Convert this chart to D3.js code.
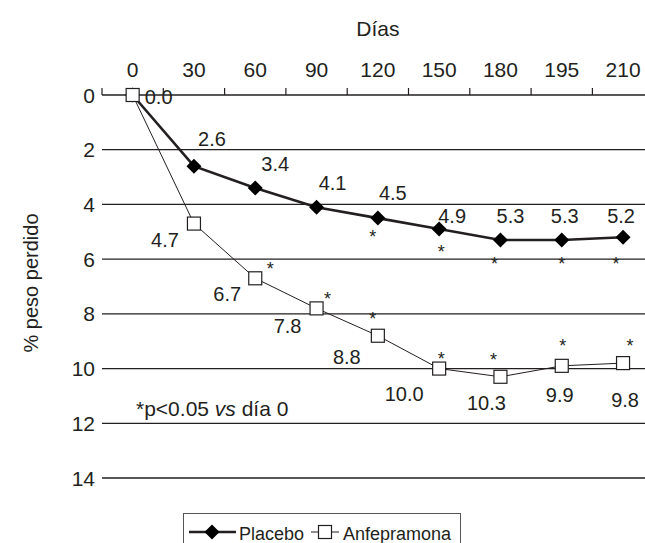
<!DOCTYPE html>
<html>
<head>
<meta charset="utf-8">
<script src="https://cdn.jsdelivr.net/npm/d3@7"></script>
<style>
  body { margin: 0; background: #fff; }
  svg { display: block; font-family: "Liberation Sans", Arial, Helvetica, sans-serif; }
</style>
</head>
<body>
<svg id="base" width="645" height="543"></svg>
<script>
// data
const days = ["0", "30", "60", "90", "120", "150", "180", "195", "210"];
const placebo = [0, 2.6, 3.4, 4.1, 4.5, 4.9, 5.3, 5.3, 5.2];
const anfepramona = [0, 4.7, 6.7, 7.8, 8.8, 10.0, 10.3, 9.9, 9.8];
const yTicks = [0, 2, 4, 6, 8, 10, 12, 14];
// significance (p<0.05 vs day 0)
const placeboSig = [false, false, false, false, true, true, true, true, true];
const anfepSig = [false, false, true, true, true, true, true, true, true];

// label placement (offsets from the point, in px)
const placeboLabelOff = [null, [18, -27], [20, -24], [16, -24], [15, -25], [13, -13], [10, -24], [3, -24], [-2, -21]];
const anfepLabelOff = [[26, 2], [-29, 16], [-28, 16], [-29, 17], [-31, 21], [-35, 25], [-14, 26], [-2, 29], [2, 37]];
const placeboStarOff = [null, null, null, null, [-5, 15], [2, 19], [-6, 20], [0, 20], [-7, 23]];
const anfepStarOff = [null, null, [15, -13], [11, -13], [-5, -21], [2, -14], [-7, -21], [1, -24], [7, -21]];

const ink = "#231f20";
const base = d3.select("#base");

const x = d3.scaleBand().domain(days).range([102, 102 + 9 * 61.3]);
const y = d3.scaleLinear().domain([0, 14]).range([95, 478]);
const cx = (i) => x(days[i]) + x.bandwidth() / 2;

// titles
base.append("text")
    .attr("x", (cx(0) + cx(8)) / 2)
    .attr("y", 36)
    .attr("text-anchor", "middle")
    .attr("font-size", 21)
    .attr("fill", ink)
    .text("Días");

base.append("text")
    .attr("transform", "translate(38,283) rotate(-90)")
    .attr("text-anchor", "middle")
    .attr("font-size", 20)
    .attr("fill", ink)
    .text("% peso perdido");

// gridlines
base.selectAll("line.grid")
    .data(yTicks.filter((d) => d > 0))
    .enter()
    .append("line")
    .attr("class", "grid")
    .attr("x1", 102)
    .attr("x2", 645)
    .attr("y1", (d) => y(d))
    .attr("y2", (d) => y(d))
    .attr("stroke", ink)
    .attr("stroke-width", 1.3);

// top axis
const xAxis = d3.axisTop(x).tickSize(0).tickPadding(18);
const gx = base.append("g")
    .attr("transform", `translate(0,${y(0)})`)
    .call(xAxis);
gx.select(".domain").remove();
gx.selectAll("text").attr("font-size", 21).attr("fill", ink).attr("font-family", null);

base.append("line")
    .attr("x1", 102).attr("x2", 645)
    .attr("y1", y(0)).attr("y2", y(0))
    .attr("stroke", ink).attr("stroke-width", 1.4);

base.selectAll("line.xtick")
    .data(d3.range(10))
    .enter()
    .append("line")
    .attr("class", "xtick")
    .attr("x1", (d) => x.range()[0] + d * x.step())
    .attr("x2", (d) => x.range()[0] + d * x.step())
    .attr("y1", y(0) - 7)
    .attr("y2", y(0))
    .attr("stroke", ink)
    .attr("stroke-width", 1.2);

// y tick labels
base.selectAll("text.ylab")
    .data(yTicks)
    .enter()
    .append("text")
    .attr("class", "ylab")
    .attr("x", 95)
    .attr("y", (d) => y(d))
    .attr("dy", "0.36em")
    .attr("text-anchor", "end")
    .attr("font-size", 21)
    .attr("fill", ink)
    .text((d) => d);

// lines
const line = d3.line().x((d, i) => cx(i)).y((d) => y(d));

base.append("path")
    .datum(anfepramona)
    .attr("d", line)
    .attr("fill", "none")
    .attr("stroke", ink)
    .attr("stroke-width", 1);

base.append("path")
    .datum(placebo)
    .attr("d", line)
    .attr("fill", "none")
    .attr("stroke", ink)
    .attr("stroke-width", 2.6);

// markers
base.selectAll("path.diamond")
    .data(placebo)
    .enter()
    .append("path")
    .attr("class", "diamond")
    .attr("d", "M0,-7.5L7.5,0L0,7.5L-7.5,0Z")
    .attr("transform", (d, i) => `translate(${cx(i)},${y(d)})`)
    .attr("fill", "#000");

base.selectAll("rect.square")
    .data(anfepramona)
    .enter()
    .append("rect")
    .attr("class", "square")
    .attr("x", (d, i) => cx(i) - 6.5)
    .attr("y", (d) => y(d) - 6.5)
    .attr("width", 13)
    .attr("height", 13)
    .attr("fill", "#fff")
    .attr("stroke", ink)
    .attr("stroke-width", 1.2);

// value labels
function labels(values, offs, cls) {
    base.selectAll("text." + cls)
        .data(values.map((v, i) => ({ v, i, o: offs[i] })).filter((d) => d.o))
        .enter()
        .append("text")
        .attr("class", cls)
        .attr("x", (d) => cx(d.i) + d.o[0])
        .attr("y", (d) => y(d.v) + d.o[1])
        .attr("dy", "0.36em")
        .attr("text-anchor", "middle")
        .attr("font-size", 20)
        .attr("fill", ink)
        .text((d) => d.v.toFixed(1));
}
labels(placebo, placeboLabelOff, "plab");
labels(anfepramona, anfepLabelOff, "alab");

function stars(values, sig, offs, cls) {
    base.selectAll("text." + cls)
        .data(values.map((v, i) => ({ v, i, o: offs[i] })).filter((d) => sig[d.i]))
        .enter()
        .append("text")
        .attr("class", cls)
        .attr("x", (d) => cx(d.i) + d.o[0])
        .attr("y", (d) => y(d.v) + d.o[1] + 10)
        .attr("text-anchor", "middle")
        .attr("font-size", 18)
        .attr("fill", ink)
        .text("*");
}
stars(placebo, placeboSig, placeboStarOff, "pstar");
stars(anfepramona, anfepSig, anfepStarOff, "astar");

// note
const note = base.append("text")
    .attr("x", 136)
    .attr("y", 416)
    .attr("font-size", 21)
    .attr("fill", ink);
note.append("tspan").text("*p<0.05 ");
note.append("tspan").attr("font-style", "italic").text("vs");
note.append("tspan").text(" día 0");

// legend
const legend = base.append("g").attr("id", "legend");
legend.append("rect")
    .attr("x", 183.5).attr("y", 513.5)
    .attr("width", 277).attr("height", 40)
    .attr("fill", "none")
    .attr("stroke", "#555")
    .attr("stroke-width", 1);

const ly = 532;
legend.append("line")
    .attr("x1", 189).attr("x2", 236).attr("y1", ly).attr("y2", ly)
    .attr("stroke", ink).attr("stroke-width", 2.6);
legend.append("path")
    .attr("d", "M0,-7.5L7.5,0L0,7.5L-7.5,0Z")
    .attr("transform", `translate(212,${ly})`)
    .attr("fill", "#000");
legend.append("text")
    .attr("x", 239).attr("y", ly + 8)
    .attr("font-size", 18).attr("fill", ink)
    .text("Placebo");

legend.append("line")
    .attr("x1", 311).attr("x2", 339).attr("y1", ly).attr("y2", ly)
    .attr("stroke", ink).attr("stroke-width", 1);
legend.append("rect")
    .attr("x", 318.5).attr("y", ly - 6.5)
    .attr("width", 13).attr("height", 13)
    .attr("fill", "#fff").attr("stroke", ink).attr("stroke-width", 1.2);
legend.append("text")
    .attr("x", 343).attr("y", ly + 8)
    .attr("font-size", 18).attr("fill", ink)
    .text("Anfepramona");
</script>
</body>
</html>
